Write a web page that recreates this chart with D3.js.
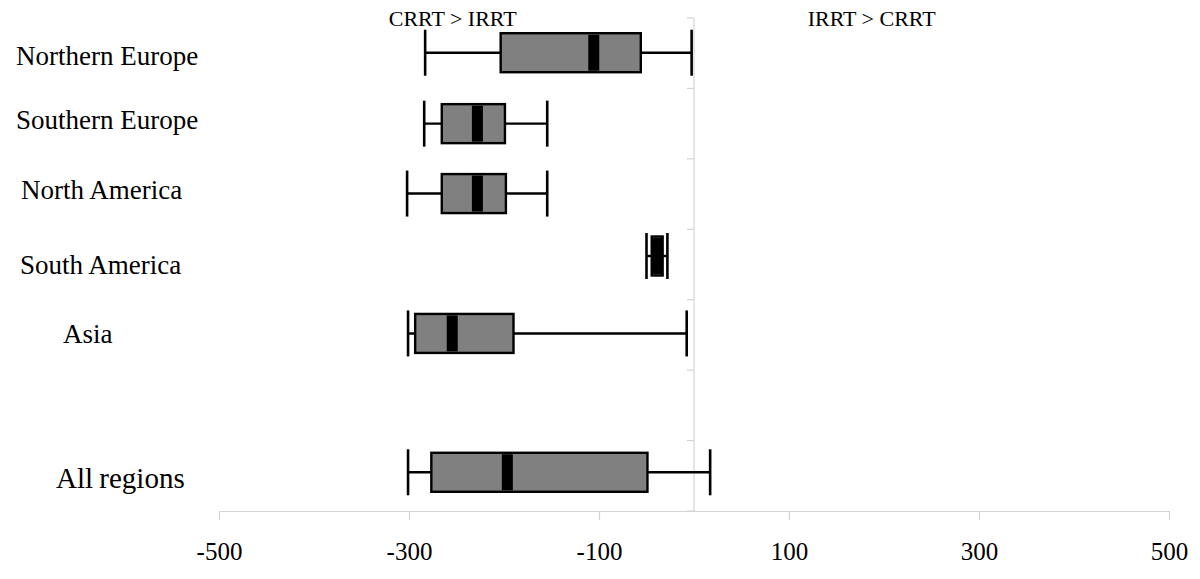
<!DOCTYPE html>
<html>
<head>
<meta charset="utf-8">
<script src="https://cdn.jsdelivr.net/npm/d3@7"></script>
<style>
  html, body { margin: 0; padding: 0; background: #fff; }
  svg { display: block; }
  text { font-family: "Liberation Serif", "Times New Roman", serif; fill: #000; }
</style>
</head>
<body>
<svg id="chart" width="1200" height="579"></svg>
<script>
// ---- data ----
const categories = ["Northern Europe", "Southern Europe", "North America", "South America", "Asia", "", "All regions"];
const lowWhisker = [-283, -284, -302, -50, -301, null, -301];
const q1         = [-203.5, -265.5, -265.5, -44.5, -293.5, null, -276.5];
const median     = [-105.5, -228, -228, -38.7, -254.5, null, -196.5];
const q3         = [-56, -199, -198, -33, -190, null, -49];
const highWhisker= [-2.5, -154.5, -154.5, -28, -7.7, null, 17];
const xTickValues = [-500, -300, -100, 100, 300, 500];
const sideLabels = ["CRRT > IRRT", "IRRT > CRRT"];
const sideLabelValues = [-254, 187];

// ---- layout ----
const W = 1200, H = 579;
const plot = { left: 219, right: 1169, top: 18, bottom: 511 };
const labelLeft = [16, 16, 21, 20, 63, null, 56];
const labelDy = [12, 5.5, 4.5, 9.5, 8, 0, 12];
const labelSize = [27, 27, 27, 27, 27, 27, 29];
const rowDy = [-0.5, 0, -0.5, -8.5, -1.5, 0, -3.5];
const boxH = 39, capH = 46, medW = 11;
const gridColor = "#d4d4d4";

const svg = d3.select("#chart");

const x = d3.scaleLinear().domain([-500, 500]).range([plot.left, plot.right]);
const y = d3.scaleBand().domain(d3.range(categories.length)).range([plot.top, plot.bottom]).paddingInner(0).paddingOuter(0);

// x axis
const xAxis = svg.append("g")
  .attr("transform", `translate(0,${plot.bottom})`)
  .call(d3.axisBottom(x).tickValues(xTickValues).tickSize(9).tickSizeOuter(0).tickFormat(d3.format("d")));
xAxis.attr("font-family", null);
xAxis.select(".domain").attr("stroke", gridColor).attr("stroke-width", 1.2);
xAxis.selectAll(".tick line").attr("stroke", gridColor).attr("stroke-width", 1.2);
xAxis.selectAll(".tick text")
  .attr("y", 0).attr("dy", 0)
  .attr("transform", "translate(0,49)")
  .style("font-family", '"Liberation Serif", "Times New Roman", serif')
  .style("font-size", "25px").attr("fill", "#000")
  .text(d => d < 0 ? "-" + Math.abs(d) : d);

// vertical zero axis with band ticks
const yAxis = svg.append("g").attr("transform", `translate(${x(0)},0)`);
yAxis.append("line").attr("x1", 0).attr("x2", 0).attr("y1", plot.top).attr("y2", plot.bottom)
  .attr("stroke", gridColor).attr("stroke-width", 1.2);
const boundaries = d3.range(categories.length + 1).map(i => plot.top + i * y.step());
yAxis.selectAll("line.tk").data(boundaries).join("line").attr("class", "tk")
  .attr("x1", -7).attr("x2", 0).attr("y1", d => d).attr("y2", d => d)
  .attr("stroke", gridColor).attr("stroke-width", 1.2);

// side labels
svg.selectAll("text.side").data(sideLabels).join("text").attr("class", "side")
  .attr("x", (d, i) => x(sideLabelValues[i])).attr("y", 26)
  .attr("text-anchor", "middle").style("font-size", "22px").text(d => d);

// category labels
svg.selectAll("text.cat").data(categories).join("text").attr("class", "cat")
  .attr("x", (d, i) => labelLeft[i] == null ? 0 : labelLeft[i])
  .attr("y", (d, i) => y(i) + y.bandwidth() / 2 + labelDy[i])
  .style("font-size", (d, i) => labelSize[i] + "px")
  .style("word-spacing", (d, i) => i === 6 ? "-1px" : "0px")
  .text(d => d);

// boxes
const rows = categories.map((c, i) => ({ i, lo: lowWhisker[i], q1: q1[i], med: median[i], q3: q3[i], hi: highWhisker[i] }))
  .filter(r => r.lo != null);

const g = svg.append("g");
rows.forEach(r => {
  const cy = y(r.i) + y.bandwidth() / 2 + rowDy[r.i];
  const row = g.append("g");
  // whisker line
  row.append("line").attr("x1", x(r.lo)).attr("x2", x(r.hi)).attr("y1", cy).attr("y2", cy)
    .attr("stroke", "#000").attr("stroke-width", 2.4);
  // caps
  [r.lo, r.hi].forEach(v => {
    row.append("line").attr("x1", x(v)).attr("x2", x(v)).attr("y1", cy - capH / 2).attr("y2", cy + capH / 2)
      .attr("stroke", "#000").attr("stroke-width", 2.6);
  });
  // box
  row.append("rect").attr("x", x(r.q1)).attr("y", cy - boxH / 2)
    .attr("width", x(r.q3) - x(r.q1)).attr("height", boxH)
    .attr("fill", "#808080").attr("stroke", "#000").attr("stroke-width", 2.4);
  // median
  row.append("rect").attr("x", x(r.med) - medW / 2).attr("y", cy - boxH / 2 + 1.5)
    .attr("width", medW).attr("height", boxH - 3).attr("fill", "#000");
});
</script>
</body>
</html>
